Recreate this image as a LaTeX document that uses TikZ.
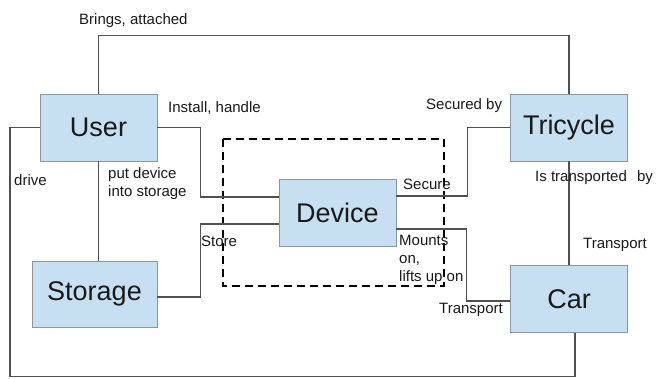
\documentclass[tikz,border=0pt]{standalone}
\usepackage{fontspec}
\setmainfont{Liberation Sans}
\usetikzlibrary{calc}
\definecolor{boxfill}{RGB}{198,224,242}
\definecolor{boxline}{RGB}{140,150,160}
\definecolor{wire}{RGB}{80,80,80}
\definecolor{ink}{RGB}{25,25,25}
\begin{document}
\begin{tikzpicture}[x=1pt,y=-1pt,
  entity/.style={draw=boxline, line width=0.9pt, fill=boxfill, text=ink,
    minimum width=117pt, minimum height=67pt, inner sep=0pt,
    font=\fontsize{27}{30}\selectfont},
  conn/.style={draw=wire, line width=1.1pt},
  lbl/.style={text=ink, inner sep=0pt, font=\fontsize{15}{18}\selectfont},
  frame/.style={draw=black, line width=1.8pt, dash pattern=on 8pt off 5pt}]
\useasboundingbox (0,0) rectangle (660,378);

% entities
\node[entity] (user) at (98.5,127.5) {User};
\node[entity] (tricycle) at (569,127.5) {Tricycle};
\node[entity] (device) at (337.5,213) {Device};
\node[entity, minimum width=125pt, minimum height=66pt] (storage) at (94.5,294) {Storage};
\node[entity] (car) at (569,299) {Car};

% boundary round the device
\draw[frame] (223,139) rectangle (444,286);

% corner points of the long outer connectors
\coordinate (dl) at (10,127.5);
\coordinate (db) at (10,376.8);

% connectors
\draw[conn] (user.north) -- ++(0,-58) -| (tricycle.north);
\draw[conn] (user.east) -- ++(43,0) |- ([yshift=16pt]device.west);
\draw[conn] (user.south) -- (user.south |- storage.north);
\draw[conn] ([yshift=-3pt]storage.east) -- ++(43,0) |- ([yshift=-11pt]device.west);
\draw[conn] (tricycle.west) -- ++(-43,0) |- ([yshift=17pt]device.east);
\draw[conn] ([yshift=-16pt]device.east) -- ++(70,0) |- ([yshift=-2pt]car.west);
\draw[conn] (tricycle.south) -- (car.north);
\draw[conn] (user.west) -- (dl) -- (db) -| ([xshift=6pt]car.south);

% connector labels
\node[lbl, anchor=base west] at (79,24) {Brings, attached};
\node[lbl, anchor=base west] at (168,112) {Install, handle};
\node[lbl, anchor=base west] at (426,109) {Secured by};
\node[lbl, anchor=base west] at (14,185) {drive};
\node[lbl, anchor=north west, align=left] at (108,167) {put device\\into storage};
\node[lbl, anchor=base west] at (201,246) {Store};
\node[lbl, anchor=base west] at (403,189) {Secure};
\node[lbl, anchor=north west, align=left] at (399,235) {Mounts\\on,\\lifts up on};
\node[lbl, anchor=base west] at (439,313) {Transport};
\node[lbl, anchor=base west] at (535,181) {Is transported\hspace{6pt} by};
\node[lbl, anchor=base west] at (583,248) {Transport};
\end{tikzpicture}
\end{document}
